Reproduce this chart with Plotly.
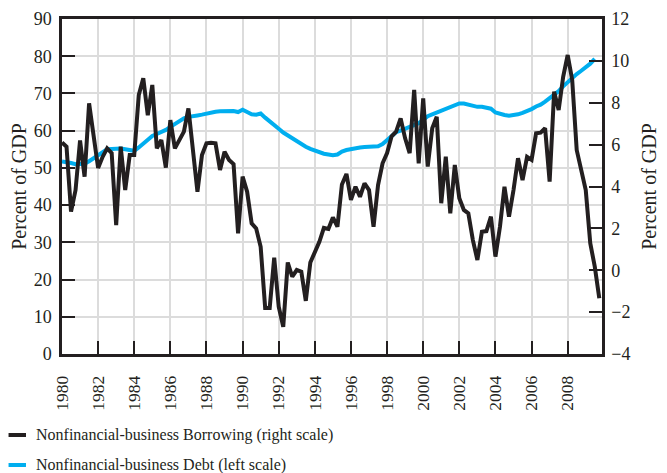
import plotly.graph_objects as go

# Quarterly dates, 1980Q1 .. 2009Q4
quarters = [1980 + q / 4 for q in range(120)]

# Nonfinancial-business borrowing, percent of GDP (right scale)
borrowing = [
    6.1, 5.9, 2.8, 3.83, 6.2, 4.47, 7.97, 6.55, 4.88, 5.42,
    5.82, 5.6, 2.16, 5.9, 3.83, 5.5, 5.5, 8.37, 9.17, 7.4,
    8.85, 5.82, 6.22, 4.9, 7.17, 5.82, 6.22, 6.62, 7.73, 5.59,
    3.75, 5.5, 6.06, 6.09, 6.06, 4.79, 5.66, 5.27, 5.07, 1.76,
    4.47, 3.75, 2.24, 2.0, 1.12, -1.8, -1.8, 0.6, -1.74, -2.7,
    0.37, -0.31, 0.01, -0.07, -1.46, 0.37, 0.85, 1.36, 2.02, 1.97,
    2.52, 2.08, 4.1, 4.6, 3.36, 3.99, 3.51, 4.15, 3.83, 2.08,
    4.07, 5.11, 5.6, 6.4, 6.62, 7.25, 6.30, 5.59, 8.61, 5.11,
    8.21, 4.95, 6.78, 7.33, 3.20, 5.42, 2.72, 5.03, 3.44, 2.88,
    2.72, 1.44, 0.49, 1.84, 1.87, 2.56, 0.65, 2.08, 3.99, 2.56,
    3.83, 5.35, 4.31, 5.42, 5.27, 6.54, 6.57, 6.78, 4.23, 8.53,
    7.65, 9.24, 10.28, 9.09, 5.74, 4.79, 3.83, 1.29, 0.17, -1.34,
]

# Nonfinancial-business debt, percent of GDP (left scale), 1980Q1 .. 2009Q3
debt = [
    51.7, 51.6, 51.3, 51.0, 51.0, 51.1, 51.8, 52.6, 53.6, 54.5,
    55.0, 55.1, 55.2, 55.2, 55.0, 54.8, 54.6, 55.5, 56.6, 57.7,
    58.6, 59.1, 59.6, 60.2, 61.0, 61.8, 62.7, 63.3, 63.7, 64.0,
    64.1, 64.3, 64.6, 65.0, 65.1, 65.2, 65.2, 65.3, 65.3, 65.0,
    65.6, 65.0, 64.4, 64.3, 64.6, 63.5, 62.4, 61.4, 60.5, 59.5,
    58.7, 57.8, 57.0, 56.3, 55.7, 55.1, 54.6, 54.2, 53.8, 53.6,
    53.4, 53.6, 54.4, 54.8, 55.1, 55.3, 55.5, 55.6, 55.7, 55.6,
    55.8, 56.4, 57.4, 58.7, 59.6, 60.0, 60.5, 60.9, 61.5, 62.0,
    62.9, 63.9, 64.4, 64.9, 65.4, 65.8, 66.3, 66.9, 67.3, 67.3,
    67.0, 66.7, 66.4, 66.4, 66.1, 65.9, 64.9, 64.5, 64.2, 64.0,
    64.1, 64.4, 64.8, 65.2, 65.8, 66.5, 67.0, 67.8, 68.7, 69.6,
    70.6, 71.9, 73.1, 74.2, 75.2, 76.1, 77.0, 78.0, 79.3,
]

x_ticks = list(range(1980, 2010, 2))
x_labels = [str(y) for y in x_ticks]
left_ticks = list(range(0, 91, 10))
right_ticks = list(range(-4, 13, 2))

legend_names = [
    "Nonfinancial-business Borrowing (right scale)",
    "Nonfinancial-business Debt (left scale)",
]

INK = "#231f20"
BLUE = "#00aeef"
GRID = "#dcdcdc"
FONT = "Liberation Serif"

fig = go.Figure()
fig.add_trace(go.Scatter(
    x=quarters[:len(debt)], y=debt, mode="lines", yaxis="y",
    line=dict(color=BLUE, width=4), name=legend_names[1], showlegend=False,
))
fig.add_trace(go.Scatter(
    x=quarters, y=borrowing, mode="lines", yaxis="y2",
    line=dict(color=INK, width=4), name=legend_names[0], showlegend=False,
))

axis_common = dict(
    showline=True, linecolor=INK, linewidth=2.5,
    ticks="inside", ticklen=13, tickwidth=2.2, tickcolor=INK,
    zeroline=False, automargin=False,
)
title_font = dict(family=FONT, size=20, color=INK)

# The page body keeps an 8px margin, so the figure is sized to fit the
# 667x473 window with the plot area at the reference position.
fig.update_layout(
    width=659, height=465,
    margin=dict(l=54, r=65, t=11, b=119),
    paper_bgcolor="white", plot_bgcolor="white",
    font=dict(family=FONT, size=16, color=INK),
    xaxis=dict(
        range=[1980, 2009.9], tickvals=x_ticks, ticktext=x_labels,
        tickangle=-90, showgrid=True, gridcolor=GRID, gridwidth=2.2,
        mirror=True, ticklabelstandoff=12,
        tickfont=dict(family=FONT, size=17.5, color=INK), **axis_common,
    ),
    yaxis=dict(
        range=[0, 90], tickvals=left_ticks, showgrid=True,
        gridcolor=GRID, gridwidth=2.2, mirror=True,
        title=dict(text="Percent of GDP", standoff=2, font=title_font),
        ticklabelstandoff=4,
        tickfont=dict(family=FONT, size=18, color=INK), **axis_common,
    ),
    yaxis2=dict(
        range=[-4, 12], tickvals=right_ticks, overlaying="y", side="right",
        showgrid=False,
        title=dict(text="Percent of GDP", standoff=13, font=title_font),
        ticklabelstandoff=3,
        tickfont=dict(family=FONT, size=18, color=INK), **axis_common,
    ),
    showlegend=False,
)

# Manual legend below the plot
rows = [(-0.2418, INK, legend_names[0]), (-0.3313, BLUE, legend_names[1])]
for yy, col, txt in rows:
    fig.add_shape(type="line", xref="paper", yref="paper",
                  x0=-0.099, x1=-0.0667, y0=yy, y1=yy,
                  line=dict(color=col, width=4))
    fig.add_annotation(xref="paper", yref="paper", x=-0.052, y=yy,
                       xanchor="left", yanchor="middle", showarrow=False,
                       text=txt, font=dict(family=FONT, size=16, color=INK))

fig.write_html("out.html")
